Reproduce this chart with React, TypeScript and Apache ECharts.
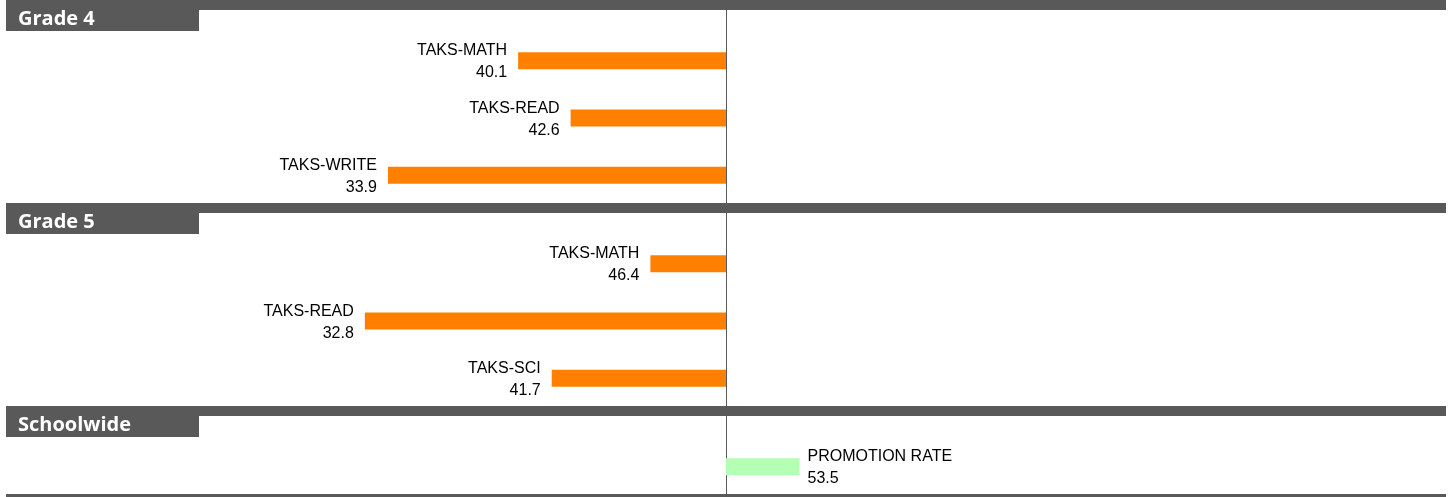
import React, { useEffect, useRef } from "react";
import * as echarts from "echarts";

const baseline = 50;
const sectionTitles = ["Grade 4", "Grade 5", "Schoolwide"];
const grade4Tests = ["TAKS-MATH", "TAKS-READ", "TAKS-WRITE"];
const grade4Values = [40.1, 42.6, 33.9];
const grade5Tests = ["TAKS-MATH", "TAKS-READ", "TAKS-SCI"];
const grade5Values = [46.4, 32.8, 41.7];
const schoolwideItems = ["PROMOTION RATE"];
const schoolwideValues = [53.5];

const BELOW = "#FF8000";
const ABOVE = "#B3FFB3";
const HEADER = "#595959";

export default function App() {
  const ref = useRef<HTMLDivElement>(null);

  useEffect(() => {
    if (!ref.current) return;
    const chart = echarts.init(ref.current, null, { renderer: "svg" });

    const sections = [
      { names: grade4Tests, values: grade4Values },
      { names: grade5Tests, values: grade5Values },
      { names: schoolwideItems, values: schoolwideValues },
    ];
    const grids = [
      { left: 6, right: 6, top: 32, height: 172 },
      { left: 6, right: 6, top: 235, height: 172 },
      { left: 6, right: 6, top: 438, height: 57.3 },
    ];
    const half = 34.29;

    chart.setOption({
      animation: false,
      grid: grids,
      xAxis: grids.map((_, i) => ({
        type: "value",
        gridIndex: i,
        min: -half,
        max: half,
        show: false,
      })),
      yAxis: sections.map((s, i) => ({
        type: "category",
        gridIndex: i,
        data: s.names,
        inverse: true,
        show: false,
      })),
      series: sections.map((s, i) => ({
        type: "bar",
        xAxisIndex: i,
        yAxisIndex: i,
        barWidth: 17,
        data: s.values.map((v) => ({
          value: +(v - baseline).toFixed(2),
          itemStyle: { color: v < baseline ? BELOW : ABOVE },
          label: {
            show: true,
            position: v < baseline ? "left" : "right",
            distance: v < baseline ? 11 : 8,
          },
        })),
        label: {
          show: true,
          fontFamily: "'Liberation Sans', Arial, sans-serif",
          fontSize: 16,
          color: "#000",
          lineHeight: 22,
          formatter: (p: any) => `${p.name}\n${s.values[p.dataIndex].toFixed(1)}`,
        },
      })),
    });

    const cx = Math.round(chart.convertToPixel({ xAxisIndex: 0 }, 0) as number) + 0.5;
    const sectionTops = [0, 203, 406];
    const graphic: any[] = [
      {
        type: "line",
        z: 1,
        shape: { x1: cx, y1: 10, x2: cx, y2: 494 },
        style: { stroke: HEADER, lineWidth: 1 },
      },
    ];
    sectionTops.forEach((y0, i) => {
      graphic.push({
        type: "rect",
        z: 10,
        shape: { x: 6, y: y0, width: 1440, height: 10 },
        style: { fill: HEADER },
      });
      graphic.push({
        type: "rect",
        z: 10,
        shape: { x: 6, y: y0, width: 193, height: 31 },
        style: { fill: HEADER },
      });
      graphic.push({
        type: "text",
        z: 11,
        x: 18,
        y: y0 + 17,
        style: {
          text: sectionTitles[i],
          fill: "#fff",
          font: "bold 20px 'Open Sans', sans-serif",
          textVerticalAlign: "middle",
        },
      });
    });
    graphic.push({
      type: "rect",
      z: 10,
      shape: { x: 6, y: 494, width: 1440, height: 3 },
      style: { fill: HEADER },
    });
    chart.setOption({ graphic });

    return () => chart.dispose();
  }, []);

  return (
    <div
      ref={ref}
      style={{ position: "fixed", left: 0, top: 0, width: 1452, height: 497 }}
    />
  );
}
